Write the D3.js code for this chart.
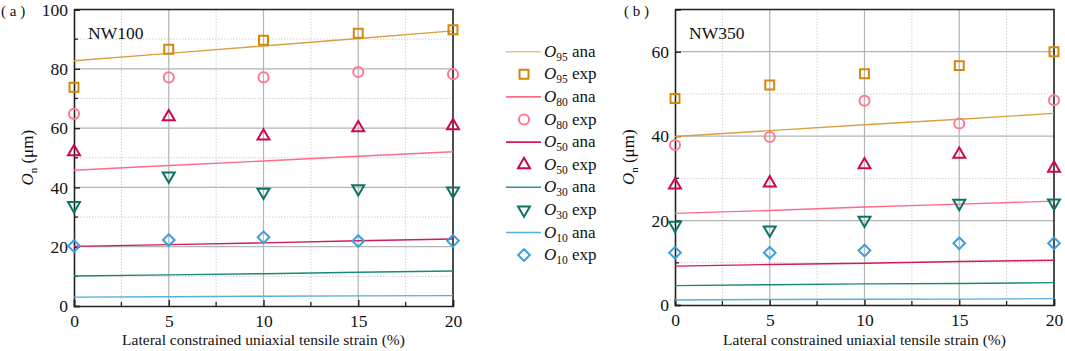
<!DOCTYPE html>
<html><head><meta charset="utf-8">
<script src="https://cdn.jsdelivr.net/npm/d3@7"></script>
<style>body{margin:0;background:#fff;} svg{display:block;} svg text{font-family:"Liberation Serif",serif !important;fill:#111;}</style>
</head><body>
<svg id="c" width="1065" height="351"></svg>
<script>
const strain = [0, 5, 10, 15, 20];
const xTicks = [0, 5, 10, 15, 20];
const yTicksA = [0, 20, 40, 60, 80, 100];
const yTicksB = [0, 20, 40, 60];
const seriesNames = ["95", "80", "50", "30", "10"];

// Panel (a) NW100
const o95AnaA = [82.7, 85.2, 87.7, 90.2, 92.8];
const o95ExpA = [73.8, 86.6, 89.6, 92.0, 93.2];
const o80AnaA = [45.8, 47.4, 48.9, 50.5, 52.0];
const o80ExpA = [64.8, 77.1, 77.1, 78.9, 78.2];
const o50AnaA = [20.1, 20.7, 21.3, 22.0, 22.6];
const o50ExpA = [52.0, 63.8, 57.3, 60.1, 60.8];
const o30AnaA = [10.1, 10.5, 10.9, 11.4, 11.8];
const o30ExpA = [33.9, 43.9, 38.4, 39.6, 38.8];
const o10AnaA = [3.0, 3.1, 3.3, 3.4, 3.5];
const o10ExpA = [20.2, 22.3, 23.2, 21.9, 22.0];

// Panel (b) NW350
const o95AnaB = [39.9, 41.3, 42.7, 44.0, 45.4];
const o95ExpB = [48.9, 52.1, 54.8, 56.7, 60.0];
const o80AnaB = [21.7, 22.4, 23.2, 23.9, 24.6];
const o80ExpB = [37.9, 39.8, 48.4, 43.0, 48.5];
const o50AnaB = [9.2, 9.6, 9.9, 10.3, 10.6];
const o50ExpB = [28.4, 28.9, 33.2, 35.7, 32.4];
const o30AnaB = [4.6, 4.8, 5.0, 5.1, 5.3];
const o30ExpB = [18.9, 17.8, 20.1, 24.1, 24.2];
const o10AnaB = [1.2, 1.3, 1.35, 1.4, 1.5];
const o10ExpB = [12.4, 12.4, 12.9, 14.6, 14.6];

const styles = {
  "95": {line: "#dba040", legLine: "#ebc487", mark: "#d4880a", shape: "square"},
  "80": {line: "#ff6b89", legLine: "#ff6b89", mark: "#ff7891", shape: "circle"},
  "50": {line: "#d2195a", legLine: "#d2195a", mark: "#cc0a48", shape: "triangle"},
  "30": {line: "#1a8a78", legLine: "#2a9585", mark: "#0b7565", shape: "triangleDown"},
  "10": {line: "#56aee0", legLine: "#56aee0", mark: "#3a9fdc", shape: "diamond"}
};

const svg = d3.select("#c");

function symbolPath(shape) {
  if (shape === "square") return d3.symbol(d3.symbolSquare, 80)();
  if (shape === "circle") return d3.symbol(d3.symbolCircle, 80)();
  if (shape === "triangle" || shape === "triangleDown") return d3.symbol(d3.symbolTriangle, 62)();
  if (shape === "diamond") return d3.symbol(d3.symbolSquare, 68)();
}
function symbolRot(shape) {
  if (shape === "triangleDown") return 180;
  if (shape === "diamond") return 45;
  return 0;
}

function panel(cfg) {
  const {left, right, top, bottom, yMax, yTicks, ana, exp, label, name} = cfg;
  const x = d3.scaleLinear().domain([0, 20]).range([left, right]);
  const y = d3.scaleLinear().domain([0, yMax]).range([bottom, top]);
  const g = svg.append("g");

  const xMinor = d3.range(2.5, 20, 5);
  const yMinor = d3.range(10, yMax, 20);
  g.selectAll(".gxm").data(xMinor).join("line")
    .attr("x1", d => x(d)).attr("x2", d => x(d)).attr("y1", top).attr("y2", bottom)
    .attr("stroke", "#cfcfcf").attr("stroke-width", 1).attr("stroke-dasharray", "1.5,1.5");
  g.selectAll(".gym").data(yMinor).join("line")
    .attr("y1", d => y(d)).attr("y2", d => y(d)).attr("x1", left).attr("x2", right)
    .attr("stroke", "#cfcfcf").attr("stroke-width", 1).attr("stroke-dasharray", "1.5,1.5");
  g.selectAll(".gx").data(xTicks.slice(1, -1)).join("line")
    .attr("x1", d => x(d)).attr("x2", d => x(d)).attr("y1", top).attr("y2", bottom)
    .attr("stroke", "#b4b4b4").attr("stroke-width", 1.2);
  g.selectAll(".gy").data(yTicks.filter(v => v > 0 && v < yMax)).join("line")
    .attr("y1", d => y(d)).attr("y2", d => y(d)).attr("x1", left).attr("x2", right)
    .attr("stroke", "#b4b4b4").attr("stroke-width", 1.2);

  const xAxis = d3.axisBottom(x).tickValues(xTicks).tickSize(-6).tickPadding(9).tickFormat(d3.format("d"));
  const xa = g.append("g").attr("transform", `translate(0,${bottom})`).call(xAxis);
  const yAxis = d3.axisLeft(y).tickValues(yTicks).tickSize(-6).tickPadding(6).tickFormat(d3.format("d"));
  const ya = g.append("g").attr("transform", `translate(${left},0)`).call(yAxis);
  [xa, ya].forEach(a => {
    a.attr("font-family", null).attr("font-size", null);
    a.select(".domain").attr("stroke", "#222").attr("stroke-width", 1.6);
    a.selectAll(".tick line").attr("stroke", "#222").attr("stroke-width", 1.4);
    a.selectAll(".tick text").style("font-size", "17.5px").attr("fill", "#111");
  });
  g.selectAll(".mtx").data(xMinor).join("line")
    .attr("x1", d => x(d)).attr("x2", d => x(d)).attr("y1", bottom).attr("y2", bottom - 4)
    .attr("stroke", "#222").attr("stroke-width", 1.3);
  g.selectAll(".mty").data(yMinor).join("line")
    .attr("y1", d => y(d)).attr("y2", d => y(d)).attr("x1", left).attr("x2", left + 4)
    .attr("stroke", "#222").attr("stroke-width", 1.3);
  g.append("path").attr("d", `M${left},${top}H${right}V${bottom}`)
    .attr("fill", "none").attr("stroke", "#222").attr("stroke-width", 1.6);

  const line = d3.line().x((d, i) => x(strain[i])).y(d => y(d));
  seriesNames.forEach((k, i) => {
    g.append("path").datum(ana[i]).attr("d", line)
      .attr("fill", "none").attr("stroke", styles[k].line).attr("stroke-width", 1.4);
  });
  seriesNames.forEach((k, i) => {
    const s = styles[k];
    g.selectAll(null).data(exp[i]).join("path")
      .attr("d", symbolPath(s.shape))
      .attr("transform", (d, j) => `translate(${x(strain[j])},${y(d)}) rotate(${symbolRot(s.shape)})`)
      .attr("fill", "none").attr("stroke", s.mark).attr("stroke-width", 2);
  });

  g.append("text").attr("x", left + 14).attr("y", top + 29).style("font-size", "17.5px").text(name);
  g.append("text").attr("x", (left + right) / 2).attr("y", 345).attr("text-anchor", "middle")
    .style("font-size", "15.5px").text("Lateral constrained uniaxial tensile strain (%)");
  const yt = g.append("text").attr("transform", `translate(${cfg.yTitleX},${(top + bottom) / 2}) rotate(-90)`)
    .attr("text-anchor", "middle").style("font-size", "17px");
  yt.append("tspan").attr("font-style", "italic").text("O");
  yt.append("tspan").style("font-size", "11px").attr("dy", 4).text("n");
  yt.append("tspan").attr("dy", -4).text(" (μm)");
  svg.append("text").attr("x", cfg.labelX).attr("y", 16).style("font-size", "15px")
    .attr("xml:space", "preserve").text(label);
}

panel({left: 74, right: 453, top: 9.5, bottom: 306, yMax: 100, yTicks: yTicksA,
  ana: [o95AnaA, o80AnaA, o50AnaA, o30AnaA, o10AnaA],
  exp: [o95ExpA, o80ExpA, o50ExpA, o30ExpA, o10ExpA],
  name: "NW100", label: "( a )", labelX: 1, yTitleX: 33});
panel({left: 675, right: 1054, top: 9.5, bottom: 305, yMax: 70, yTicks: yTicksB,
  ana: [o95AnaB, o80AnaB, o50AnaB, o30AnaB, o10AnaB],
  exp: [o95ExpB, o80ExpB, o50ExpB, o30ExpB, o10ExpB],
  name: "NW350", label: "( b )", labelX: 624, yTitleX: 634});

const leg = svg.append("g");
const rowY0 = 51.7, rowDy = 22.6;
seriesNames.forEach((k, i) => {
  const s = styles[k];
  const ya = rowY0 + rowDy * (2 * i), ye = rowY0 + rowDy * (2 * i + 1);
  leg.append("line").attr("x1", 506).attr("x2", 541).attr("y1", ya).attr("y2", ya)
    .attr("stroke", s.legLine).attr("stroke-width", 1.6);
  leg.append("path").attr("d", symbolPath(s.shape))
    .attr("transform", `translate(524,${ye}) rotate(${symbolRot(s.shape)})`)
    .attr("fill", "none").attr("stroke", s.mark).attr("stroke-width", 2);
  [[ya, " ana"], [ye, " exp"]].forEach(([yy, suf]) => {
    const t = leg.append("text").attr("x", 544).attr("y", yy + 5).style("font-size", "17px");
    t.append("tspan").attr("font-style", "italic").text("O");
    t.append("tspan").style("font-size", "11.5px").attr("dy", 4).text(k);
    t.append("tspan").attr("dy", -4).text(suf);
  });
});
</script>
</body></html>
